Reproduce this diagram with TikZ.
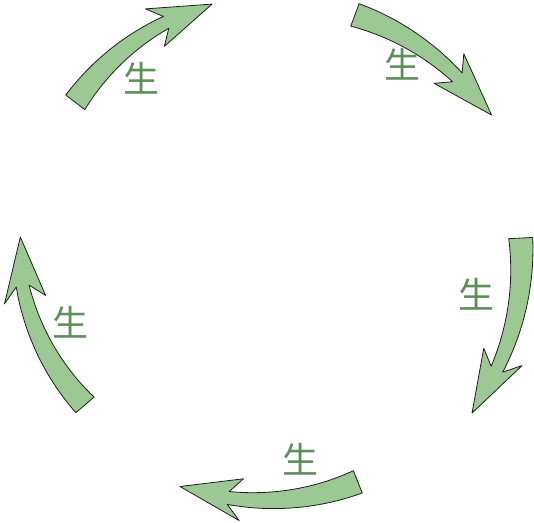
\documentclass[tikz,border=0pt]{standalone}
\usepackage{fontspec}
\usepackage{tikz}
\newfontfamily\cjk{Noto Sans CJK SC}
\definecolor{leafc}{HTML}{9CC893}
\definecolor{leafink}{HTML}{5E8E5A}
\definecolor{edgec}{HTML}{1E1E1E}

% #1 tail angle, #2 tail radius, #3 head angle, #4 head radius, #5 tip angle, #6 tip radius
\newcommand{\shengarrow}[6]{%
  \filldraw[leafc, draw=edgec, line width=0.8pt, line join=round]
    (#1:{#2+12}) -- plot[domain=0:1, samples=30] ({#1+(#3-#1)*\x}:{#2+(#4-#2)*\x+12-5.5*\x})
    -- ({#3+(#1-#3)*0.1}:{#4+21}) -- (#5:#6) -- ({#3+(#1-#3)*0.1}:{#4-21})
    -- plot[domain=1:0, samples=30] ({#1+(#3-#1)*\x}:{#2+(#4-#2)*\x-12+5.5*\x}) -- cycle;}

\begin{document}
\begin{tikzpicture}[x=1pt, y=1pt]
  \useasboundingbox (0,0) rectangle (534,522);
  \tikzset{sheng/.style={text=leafink, font=\cjk\fontsize{36}{36}\selectfont, inner sep=0pt}}

  \begin{scope}[shift={(267,272)}]
    \shengarrow{142.4}{242}{113.9}{249}{102.6}{252}
    \shengarrow{69.5}{251}{42.2}{257}{31}{262}
    \shengarrow{2.7}{254}{-27.4}{259}{-38.5}{262}
    \shengarrow{-68.6}{249}{-98.9}{251}{-110.2}{252}
    \shengarrow{220.4}{239}{188.4}{247}{177}{247}
  \end{scope}

  \node[sheng] (s1) at (141,444) {生};
  \node[sheng] (s2) at (402,458) {生};
  \node[sheng] (s3) at (476,228) {生};
  \node[sheng] (s4) at (300,63) {生};
  \node[sheng] (s5) at (70,200) {生};
\end{tikzpicture}
\end{document}
